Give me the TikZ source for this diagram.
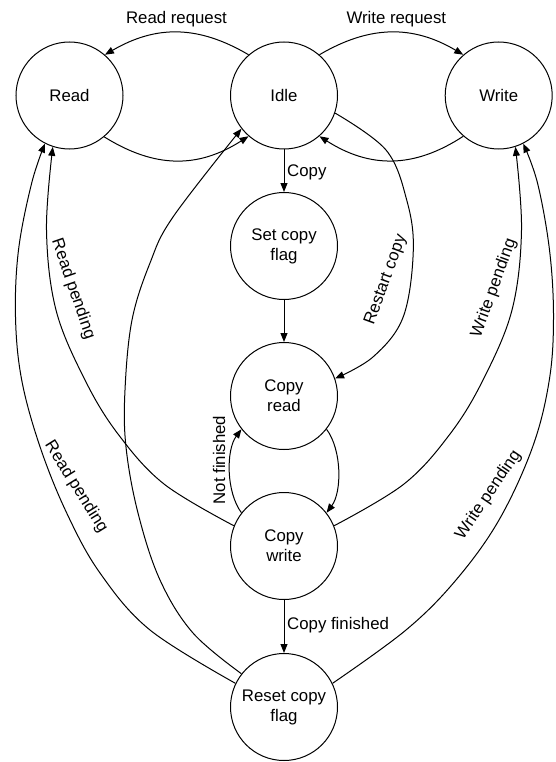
\documentclass[tikz,border=0pt]{standalone}
\usepackage{fontspec}
\setmainfont{Liberation Sans}
\usetikzlibrary{arrows.meta}
\begin{document}
\begin{tikzpicture}[x=1pt,y=-1pt,
  every node/.style={font=\fontsize{16.8}{20}\selectfont},
  state/.style={draw, circle, minimum size=107pt, inner sep=0pt, line width=1pt, align=center},
  arr/.style={-{Triangle[length=9pt,width=7pt]}, line width=1pt},
  lbl/.style={inner sep=0pt}]
\useasboundingbox (0,0) rectangle (556,762);
% states
\node[state] (read) at (69.5,95.5) {Read};
\node[state] (idle) at (284,95.5) {Idle};
\node[state] (write) at (498.7,95.5) {Write};
\node[state] (scf) at (284,246) {Set copy\\flag};
\node[state] (cr) at (284,396) {Copy\\read};
\node[state] (cw) at (284,546) {Copy\\write};
\node[state] (rcf) at (284,707) {Reset copy\\flag};
% top transitions
\draw[arr] (idle.131) .. controls (198,25) and (156,25) .. (read.49);
\draw[arr] (read.-50) .. controls (155,168.5) and (198,168.5) .. (idle.-131);
\draw[arr] (idle.49) .. controls (370,25) and (413,25) .. (write.131);
\draw[arr] (write.-131) .. controls (414,168.5) and (370,168.5) .. (idle.-49);
% vertical chain
\draw[arr] (idle.south) -- (scf.north);
\draw[arr] (scf.south) -- (cr.north);
\draw[arr] (cw.south) -- (rcf.north);
% copy loop
\draw[arr] (cr.-38) .. controls (342,450) and (342,492) .. (cw.38);
\draw[arr] (cw.142) .. controls (226,492) and (226,450) .. (cr.218);
% restart copy
\draw[arr] plot[smooth, tension=0.6] coordinates {(idle.-19) (386,150) (406.7,200) (413.3,250) (403.3,316.7) (373.3,356.7) (cr.19)};
% read pending
\draw[arr] plot[smooth, tension=0.6] coordinates {(cw.158) (164,484) (118,434) (85,380) (56,310) (46.5,230) (read.252)};
\draw[arr] plot[smooth, tension=0.6] coordinates {(rcf.154) (150,630) (100,573) (66.7,513) (40,446.7) (21.7,380) (15.5,317) (18.5,250) (31.7,183) (read.243)};
% write pending
\draw[arr] plot[smooth, tension=0.6] coordinates {(cw.22) (404,484) (450,434) (483,380) (512,310) (521.5,230) (write.-72)};
\draw[arr] plot[smooth, tension=0.6] coordinates {(rcf.26) (406,630) (456,580) (499,520) (532.7,446.7) (549.3,380) (553.5,317) (549.5,250) (537.5,183) (write.-63)};
% reset -> idle
\draw[arr] plot[smooth, tension=0.6] coordinates {(rcf.142) (193,633) (160,580) (138,513) (126,447) (125,390) (132,320) (150,263) (173,217) (idle.218)};
% labels
\node[lbl, anchor=base] (lrr) at (176.5,24) {Read request};
\node[lbl, anchor=base] (lwr) at (396.3,24) {Write request};
\node[lbl, anchor=base west] (lc) at (287,176) {Copy};
\node[lbl, anchor=base west] (lcf) at (287,629) {Copy finished};
\node[lbl, rotate=90] (lnf) at (219,460) {Not finished};
\node[lbl, rotate=70] (lrc) at (386,280) {Restart copy};
\node[lbl, rotate=70] (lwp1) at (494,288) {Write pending};
\node[lbl, rotate=56] (lwp2) at (488.5,495) {Write pending};
\node[lbl, rotate=-71] (lrp1) at (73,289) {Read pending};
\node[lbl, rotate=-58] (lrp2) at (76,487) {Read pending};
\end{tikzpicture}
\end{document}
